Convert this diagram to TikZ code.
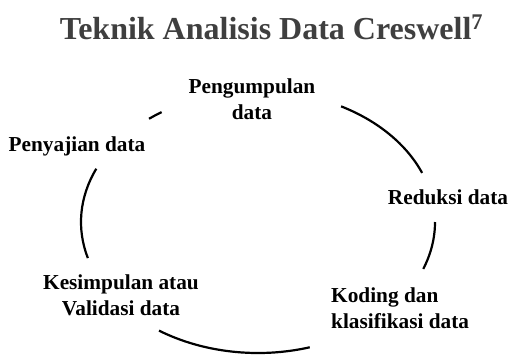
\documentclass[tikz,border=0pt]{standalone}
\usepackage{fontspec}
\setmainfont{Liberation Serif}
\definecolor{titlegray}{HTML}{3F3F3F}
\begin{document}
\begin{tikzpicture}[
  lbl/.style={font=\fontsize{21.3}{26}\selectfont\bfseries, text=black, inner sep=0pt, align=center, anchor=base},
  cyc/.style={line width=2.2pt, black}
]
\useasboundingbox (0,0) rectangle (510pt,-354pt);
\node[font=\fontsize{32}{36}\selectfont\bfseries, text=titlegray, inner sep=0pt, anchor=base] (title) at (271.5pt,-39pt) {Teknik Analisis Data Creswell\textsuperscript{7}};
\node[lbl] (peng) at (252pt,-119pt) {Pengumpulan\\data};
\node[lbl] (peny) at (77pt,-151pt) {Penyajian data};
\node[lbl] (red) at (448pt,-204pt) {Reduksi data};
\node[lbl] (kes) at (121pt,-315pt) {Kesimpulan atau\\Validasi data};
\node[lbl, align=left, anchor=base west] (kod) at (331pt,-328pt) {Koding dan\\klasifikasi data};
\coordinate (c) at (258pt,-222pt);
\foreach \a/\b in {123/128, 22/62, -21/0, 236/287, 156/196}{
  \draw[cyc] (c) ++(\a:177pt and 131pt) arc[start angle=\a, end angle=\b, x radius=177pt, y radius=131pt];
}
\end{tikzpicture}
\end{document}
